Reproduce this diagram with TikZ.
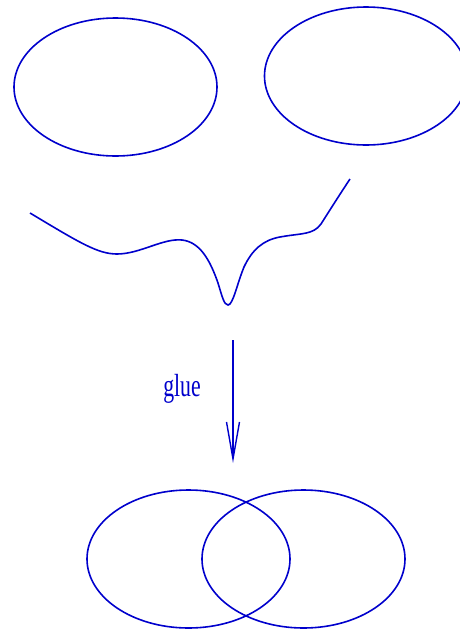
\documentclass[tikz,border=0pt]{standalone}
\usepackage{fontspec}
\setmainfont{Liberation Serif}
\usetikzlibrary{arrows.meta}
\definecolor{lineblue}{RGB}{0,0,204}
\begin{document}
\begin{tikzpicture}[x=1pt, y=-1pt]
        \tikzset{
            shape line/.style={lineblue, line width=1.6pt},
            glue arrow/.style={-{Straight Barb[length=37pt, width=13pt, line width=1.4pt]}, lineblue, line width=1.4pt},
            glue label/.style={lineblue, font=\fontsize{32}{34}\selectfont, xscale=0.68}
        }
        \useasboundingbox (0,0) rectangle (459,630);

        % Pieces
        \draw[shape line] (115.5,87) ellipse [x radius=101.5, y radius=69];
        \draw[shape line] (366,76) ellipse [x radius=101.5, y radius=69];
        \draw[shape line] (30,213) .. controls (80,243) and (98,254) .. (117,254)
            .. controls (140,254) and (163,238) .. (182,240)
            .. controls (200,242) and (210,260) .. (218,283)
            .. controls (222,296) and (224,305) .. (228,305)
            .. controls (233,305) and (237,284) .. (244,267)
            .. controls (252,250) and (263,240) .. (280,237)
            .. controls (302,233) and (313,235) .. (321,224)
            .. controls (328,213) and (340,194) .. (350,179);

        % Gluing map
        \coordinate (top) at (233,340);
        \coordinate (tip) at (233,463);
        \draw[glue arrow] (top) -- (tip);
        \node[glue label] (glue) at (182,389) {glue};

        % Result
        \draw[shape line] (188.5,559) ellipse [x radius=101.5, y radius=69];
        \draw[shape line] (303.5,559) ellipse [x radius=101.5, y radius=69];
    \end{tikzpicture}
\end{document}
